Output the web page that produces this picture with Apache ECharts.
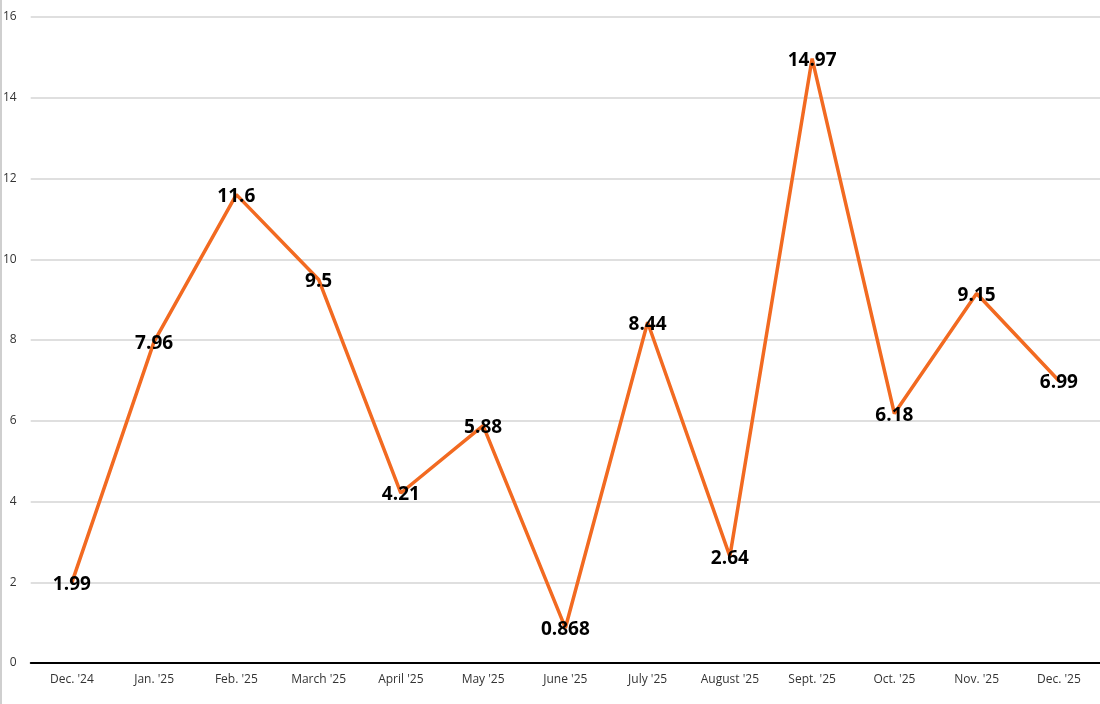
<!DOCTYPE html>
<html>
<head>
<meta charset="utf-8">
<script src="https://cdn.jsdelivr.net/npm/echarts@6/dist/echarts.min.js"></script>
<style>
html,body{margin:0;padding:0;background:#fff;}
#c{width:1100px;height:704px;}
</style>
</head>
<body>
<div id="c"></div>
<script>
var categories = ["Dec. '24","Jan. '25","Feb. '25","March '25","April '25","May '25","June '25","July '25","August '25","Sept. '25","Oct. '25","Nov. '25","Dec. '25"];
var values = [1.99, 7.96, 11.6, 9.5, 4.21, 5.88, 0.868, 8.44, 2.64, 14.97, 6.18, 9.15, 6.99];
var yTicks = [0, 2, 4, 6, 8, 10, 12, 14, 16];

var chart = echarts.init(document.getElementById('c'));
chart.setOption({
  animation: false,
  backgroundColor: '#ffffff',
  grid: { left: 30, right: -2, top: 17, bottom: 41, containLabel: false },
  xAxis: {
    type: 'category',
    data: categories,
    boundaryGap: true,
    axisLine: { show: true, lineStyle: { color: '#000000', width: 2 } },
    axisTick: { show: false },
    axisLabel: { color: '#333333', fontFamily: 'Open Sans', fontSize: 12, margin: 11, interval: 0 }
  },
  yAxis: {
    type: 'value',
    min: yTicks[0],
    max: yTicks[yTicks.length - 1],
    interval: 2,
    axisLine: { show: false },
    axisTick: { show: false },
    splitLine: { show: true, lineStyle: { color: '#d4d4d4', width: 1.5 } },
    axisLabel: { color: '#333333', fontFamily: 'Open Sans', fontSize: 12, margin: 14 }
  },
  graphic: [
    { type: 'line', shape: { x1: 1, y1: 0, x2: 1, y2: 704 }, style: { stroke: '#cfcfcf', lineWidth: 2 } }
  ],
  series: [{
    type: 'line',
    data: values,
    symbol: 'circle',
    symbolSize: 2,
    showSymbol: true,
    itemStyle: { color: 'transparent', borderWidth: 0 },
    lineStyle: { color: '#f26a21', width: 3.5 },
    label: {
      show: true,
      position: 'inside',
      offset: [0, 2],
      color: '#000000',
      fontFamily: 'Open Sans',
      fontWeight: 'bold',
      fontSize: 19
    },
    z: 3
  }]
});
</script>
</body>
</html>
